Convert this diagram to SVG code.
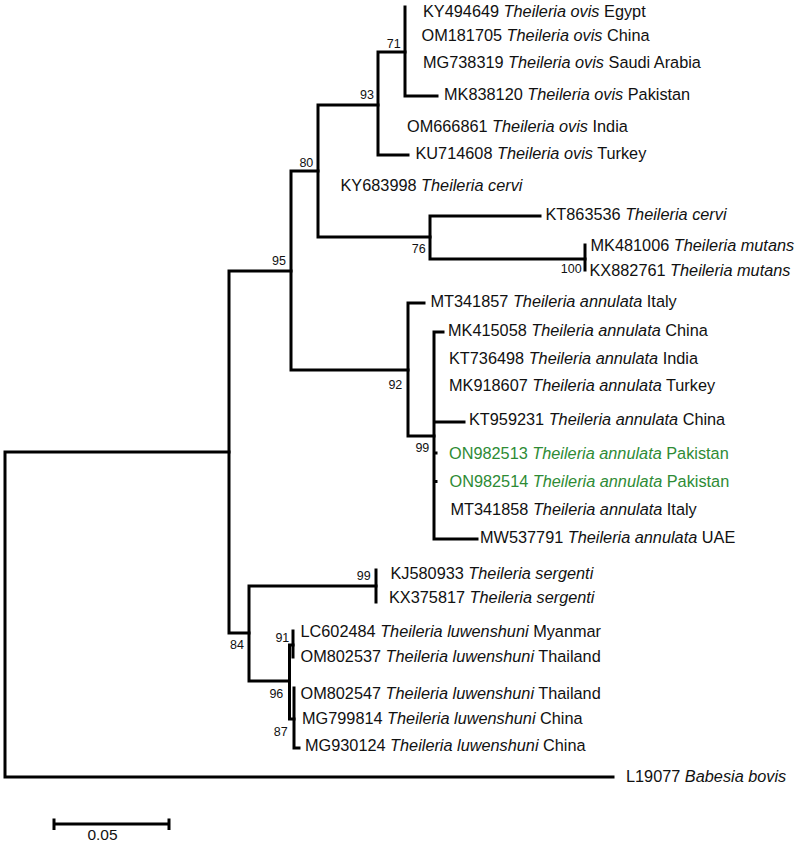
<svg xmlns="http://www.w3.org/2000/svg" width="797" height="843" viewBox="0 0 797 843">
<style>
.br{fill:none;stroke:#000;stroke-width:3;stroke-linecap:square}
.tip{font-family:"Liberation Sans",Arial,sans-serif;font-size:16.3px;fill:#111}
.tip .sp{font-style:italic}
.new{fill:#2e8b35}
.bs{font-family:"Liberation Sans",Arial,sans-serif;font-size:12.5px;fill:#111;text-anchor:end}
</style>
<rect width="797" height="843" fill="#fff"/>
<g id="connectors">
<path class="br" d="M5 452V777M5 452H229M5 777H613"/>
<path class="br" d="M229 271V633M229 271H291M229 633H249"/>
<path class="br" d="M291 171V370M291 171H318M291 370H408"/>
<path class="br" d="M318 105V237M318 105H378M318 237H430"/>
<path class="br" d="M378 52V155M378 52H405M378 155H408"/>
<path class="br" d="M405 7V96M405 96H437"/>
<path class="br" d="M430 216V259M430 216H540M430 259H585"/>
<path class="br" d="M585 245V270"/>
<path class="br" d="M408 303V436M408 303H424M408 436H434"/>
<path class="br" d="M434 332V539M434 332H443M434 422H464M434 539H477M434 453H436M434 481.5H436"/>
<path class="br" d="M249 586V681M249 586H376M249 681H289.5"/>
<path class="br" d="M376 570V602"/>
<path class="br" d="M289.5 645V719M289.5 645H293M289.5 719H294"/>
<path class="br" d="M293 631V657"/>
<path class="br" d="M294 688V748H299"/>
</g>
<g id="internal-nodes">
<g id="n71"><text class="bs" x="400.7" y="48.3">71</text></g>
<g id="n93"><text class="bs" x="374" y="99.3">93</text></g>
<g id="n80"><text class="bs" x="313.3" y="166.7">80</text></g>
<g id="n95"><text class="bs" x="286" y="265">95</text></g>
<g id="n76"><text class="bs" x="425.7" y="253.3">76</text></g>
<g id="n100"><text class="bs" x="581.7" y="272.7">100</text></g>
<g id="n92"><text class="bs" x="402.3" y="389">92</text></g>
<g id="n99a"><text class="bs" x="429.3" y="451.7">99</text></g>
<g id="n99s"><text class="bs" x="370.7" y="580">99</text></g>
<g id="n84"><text class="bs" x="244" y="649.3">84</text></g>
<g id="n91"><text class="bs" x="289.3" y="641.7">91</text></g>
<g id="n96"><text class="bs" x="283.3" y="698.3">96</text></g>
<g id="n87"><text class="bs" x="287.7" y="736">87</text></g>
</g>
<g id="tips">
<g id="KY494649"><text class="tip" x="423" y="17">KY494649 <tspan class="sp">Theileria ovis</tspan> Egypt</text></g>
<g id="OM181705"><text class="tip" x="421.5" y="41">OM181705 <tspan class="sp">Theileria ovis</tspan> China</text></g>
<g id="MG738319"><text class="tip" x="423" y="68">MG738319 <tspan class="sp">Theileria ovis</tspan> Saudi Arabia</text></g>
<g id="MK838120"><text class="tip" x="444" y="100">MK838120 <tspan class="sp">Theileria ovis</tspan> Pakistan</text></g>
<g id="OM666861"><text class="tip" x="407" y="132">OM666861 <tspan class="sp">Theileria ovis</tspan> India</text></g>
<g id="KU714608"><text class="tip" x="415.5" y="159">KU714608 <tspan class="sp">Theileria ovis</tspan> Turkey</text></g>
<g id="KY683998"><text class="tip" x="340.5" y="191">KY683998 <tspan class="sp">Theileria cervi</tspan></text></g>
<g id="KT863536"><text class="tip" x="545.5" y="219.5">KT863536 <tspan class="sp">Theileria cervi</tspan></text></g>
<g id="MK481006"><text class="tip" x="590.5" y="251">MK481006 <tspan class="sp">Theileria mutans</tspan></text></g>
<g id="KX882761"><text class="tip" x="589.5" y="276">KX882761 <tspan class="sp">Theileria mutans</tspan></text></g>
<g id="MT341857"><text class="tip" x="430.5" y="307">MT341857 <tspan class="sp">Theileria annulata</tspan> Italy</text></g>
<g id="MK415058"><text class="tip" x="448" y="335.5">MK415058 <tspan class="sp">Theileria annulata</tspan> China</text></g>
<g id="KT736498"><text class="tip" x="449" y="364">KT736498 <tspan class="sp">Theileria annulata</tspan> India</text></g>
<g id="MK918607"><text class="tip" x="449" y="391">MK918607 <tspan class="sp">Theileria annulata</tspan> Turkey</text></g>
<g id="KT959231"><text class="tip" x="469" y="425">KT959231 <tspan class="sp">Theileria annulata</tspan> China</text></g>
<g id="ON982513"><text class="tip new" x="449" y="458.5">ON982513 <tspan class="sp">Theileria annulata</tspan> Pakistan</text></g>
<g id="ON982514"><text class="tip new" x="449.5" y="486.5">ON982514 <tspan class="sp">Theileria annulata</tspan> Pakistan</text></g>
<g id="MT341858"><text class="tip" x="450.5" y="515">MT341858 <tspan class="sp">Theileria annulata</tspan> Italy</text></g>
<g id="MW537791"><text class="tip" x="480" y="543">MW537791 <tspan class="sp">Theileria annulata</tspan> UAE</text></g>
<g id="KJ580933"><text class="tip" x="390.5" y="578.5">KJ580933 <tspan class="sp">Theileria sergenti</tspan></text></g>
<g id="KX375817"><text class="tip" x="389" y="603">KX375817 <tspan class="sp">Theileria sergenti</tspan></text></g>
<g id="LC602484"><text class="tip" x="300.5" y="637">LC602484 <tspan class="sp">Theileria luwenshuni</tspan> Myanmar</text></g>
<g id="OM802537"><text class="tip" x="300.5" y="662">OM802537 <tspan class="sp">Theileria luwenshuni</tspan> Thailand</text></g>
<g id="OM802547"><text class="tip" x="300.5" y="698.5">OM802547 <tspan class="sp">Theileria luwenshuni</tspan> Thailand</text></g>
<g id="MG799814"><text class="tip" x="302" y="723.5">MG799814 <tspan class="sp">Theileria luwenshuni</tspan> China</text></g>
<g id="MG930124"><text class="tip" x="305" y="750.5">MG930124 <tspan class="sp">Theileria luwenshuni</tspan> China</text></g>
<g id="L19077"><text class="tip" x="626" y="782">L19077 <tspan class="sp">Babesia bovis</tspan></text></g>
</g>
<g id="scale-bar">
<path class="br" d="M54 824H169M54 820V828.5M169 820V828.5"/>
<text class="tip" x="102.5" y="840" text-anchor="middle" style="font-size:15.5px">0.05</text>
</g>
</svg>
